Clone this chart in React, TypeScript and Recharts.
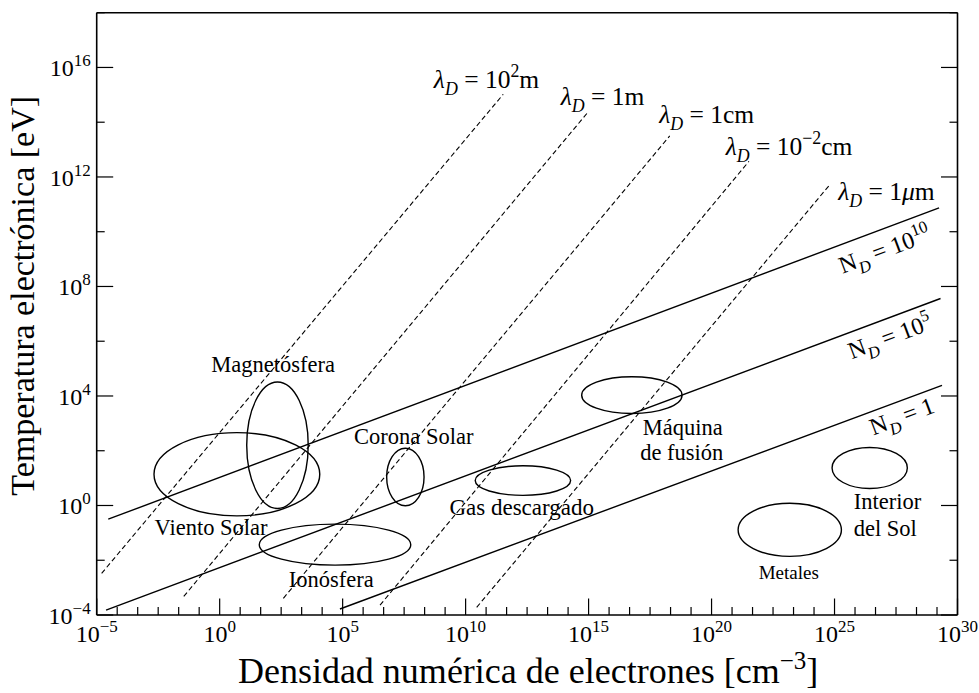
import React from 'react';
import { ComposedChart, XAxis, YAxis, Line, Scatter, ReferenceArea } from 'recharts';

const FONT = '"Liberation Serif", "Times New Roman", serif';

// everything is in log10 units: x = electron density [cm^-3], y = temperature [eV]
const xMajorTicks = [-5, 0, 5, 10, 15, 20, 25, 30];
const yMajorTicks = [-4, 0, 4, 8, 12, 16];
const yMinorTicks = [-2, 2, 6, 10, 14, 18];
// six minor steps between each labelled decade group
const xMinorTicks = xMajorTicks.slice(0, -1).flatMap((m) => [1, 2, 3, 4, 5].map((k) => m + (k * 5) / 6));

// Debye length (dashed)
const debye100m = [{ x: -4.8, y: -2.48 }, { x: 11.53, y: 15.02 }];
const debye1m = [{ x: -1.46, y: -3.32 }, { x: 14.94, y: 14.33 }];
const debye1cm = [{ x: 2.59, y: -3.39 }, { x: 18.3, y: 13.5 }];
const debye001cm = [{ x: 6.52, y: -3.64 }, { x: 21.52, y: 12.57 }];
const debye1um = [{ x: 10.45, y: -3.72 }, { x: 24.81, y: 11.72 }];

// particles in a Debye sphere (solid)
const nd1e10 = [{ x: -4.53, y: -0.5 }, { x: 29.25, y: 10.87 }];
const nd1e5 = [{ x: -4.62, y: -3.82 }, { x: 29.31, y: 7.56 }];
const nd1 = [{ x: 4.89, y: -3.78 }, { x: 29.37, y: 4.39 }];

// plasma regions: centre and half extent (decades)
const regions = [
  { name: 'Viento Solar', x: 0.7, y: 1.14, dx: 3.37, dy: 1.52 },
  { name: 'Magnetósfera', x: 2.35, y: 2.2, dx: 1.25, dy: 2.31 },
  { name: 'Corona Solar', x: 7.55, y: 1.04, dx: 0.76, dy: 1.05 },
  { name: 'Ionósfera', x: 4.69, y: -1.43, dx: 3.08, dy: 0.75 },
  { name: 'Gas descargado', x: 12.33, y: 0.91, dx: 1.94, dy: 0.54 },
  { name: 'Máquina de fusión', x: 16.76, y: 4.03, dx: 2.04, dy: 0.67 },
  { name: 'Metales', x: 23.18, y: -0.89, dx: 2.1, dy: 0.97 },
  { name: 'Interior del Sol', x: 26.43, y: 1.37, dx: 1.53, dy: 0.75 },
];

type Part = [string, string?];

const notes: { id: string; x: number; y: number; parts: Part[] }[] = [
  { id: 'l100m', x: 10.85, y: 15.55, parts: [['λ', 'i'], ['D', 'sub'], [' = 10'], ['2', 'sup'], ['m']] },
  { id: 'l1m', x: 15.57, y: 14.94, parts: [['λ', 'i'], ['D', 'sub'], [' = 1m']] },
  { id: 'l1cm', x: 19.8, y: 14.27, parts: [['λ', 'i'], ['D', 'sub'], [' = 1cm']] },
  { id: 'l001cm', x: 23.15, y: 13.11, parts: [['λ', 'i'], ['D', 'sub'], [' = 10'], ['−2', 'sup'], ['cm']] },
  { id: 'l1um', x: 27.11, y: 11.47, parts: [['λ', 'i'], ['D', 'sub'], [' = 1'], ['μ', 'i'], ['m']] },
  { id: 'n10', x: 27.04, y: 9.35, parts: [['N'], ['D', 'sub'], [' = 10'], ['10', 'sup']] },
  { id: 'n5', x: 27.25, y: 6.17, parts: [['N'], ['D', 'sub'], [' = 10'], ['5', 'sup']] },
  { id: 'n1', x: 27.74, y: 3.26, parts: [['N'], ['D', 'sub'], [' = 1']] },
  { id: 'mag', x: 2.17, y: 5.15, parts: [['Magnetósfera']] },
  { id: 'vs', x: -0.35, y: -0.8, parts: [['Viento Solar']] },
  { id: 'cs', x: 7.89, y: 2.51, parts: [['Corona Solar']] },
  { id: 'ion', x: 4.54, y: -2.69, parts: [['Ionósfera']] },
  { id: 'gas', x: 12.28, y: -0.07, parts: [['Gas descargado']] },
  { id: 'maq1', x: 18.83, y: 2.84, parts: [['Máquina']] },
  { id: 'maq2', x: 18.79, y: 1.93, parts: [['de fusión']] },
  { id: 'int1', x: 25.78, y: 0.13, parts: [['Interior']] },
  { id: 'int2', x: 25.78, y: -0.84, parts: [['del Sol']] },
  { id: 'met', x: 23.14, y: -2.44, parts: [['Metales']] },
];

const rotated: Record<string, number> = { n10: -20.5, n5: -20.5, n1: -20.5 };
const leftAligned = ['int1', 'int2'];
const noteSize: Record<string, number> = {
  l100m: 25.5, l1m: 25.5, l1cm: 25.5, l001cm: 25.5, l1um: 25.5,
  n10: 24, n5: 24, n1: 24,
  met: 19, gas: 23,
};

const MAJOR = 16.5;
const MINOR = 8;
const TICK_FONT = 24;
const TICK_SUP = 17;

function expLabel(v: number) {
  return String(v).replace('-', '−');
}

function RichText({ x, y, parts, size, anchor = 'middle', rotate = 0 }: any) {
  let level = 0;
  const spans = parts.map(([t, k]: Part, i: number) => {
    const small = k === 'sub' || k === 'sup';
    const target = k === 'sub' ? 0.28 * size : k === 'sup' ? -0.42 * size : 0;
    const dy = target - level;
    level = target;
    return (
      <tspan key={i} dy={dy} fontSize={small ? size * 0.7 : size} fontStyle={k === 'i' || k === 'sub' ? 'italic' : 'normal'}>
        {t}
      </tspan>
    );
  });
  return (
    <text
      x={x}
      y={y + size * 0.33}
      textAnchor={anchor}
      fontFamily={FONT}
      fontSize={size}
      fill="#000"
      style={{ whiteSpace: 'pre' }}
      transform={rotate ? `rotate(${rotate} ${x} ${y})` : undefined}
    >
      {spans}
    </text>
  );
}

function NoteShape(props: any) {
  const { cx, cy, payload } = props;
  if (cx == null || cy == null) return <g />;
  return (
    <RichText
      x={cx}
      y={cy}
      parts={payload.parts}
      size={noteSize[payload.id] || 22.5}
      anchor={leftAligned.includes(payload.id) ? 'start' : 'middle'}
      rotate={rotated[payload.id] || 0}
    />
  );
}

function EllipseShape(props: any) {
  const { x, y, width, height } = props;
  return (
    <ellipse
      cx={x + width / 2}
      cy={y + height / 2}
      rx={Math.abs(width) / 2}
      ry={Math.abs(height) / 2}
      fill="none"
      stroke="#000"
      strokeWidth={1.4}
    />
  );
}

function BottomTick(props: any) {
  const { x, y, payload } = props;
  const major = xMajorTicks.includes(payload.value);
  return (
    <g>
      <line x1={x} x2={x} y1={y} y2={y - (major ? MAJOR : MINOR)} stroke="#000" strokeWidth={1.2} />
      {major && (
        <text x={x} y={y + 27} textAnchor="middle" fontFamily={FONT} fontSize={TICK_FONT} fill="#000">
          10
          <tspan dy={-10} fontSize={TICK_SUP}>
            {expLabel(payload.value)}
          </tspan>
        </text>
      )}
    </g>
  );
}

function TopTick(props: any) {
  const { x, y, payload } = props;
  const major = xMajorTicks.includes(payload.value);
  return <line x1={x} x2={x} y1={y} y2={y + (major ? MAJOR : MINOR)} stroke="#000" strokeWidth={1.2} />;
}

function LeftTick(props: any) {
  const { x, y, payload } = props;
  const major = yMajorTicks.includes(payload.value);
  return (
    <g>
      <line x1={x} x2={x + (major ? MAJOR : MINOR)} y1={y} y2={y} stroke="#000" strokeWidth={1.2} />
      {major && (
        <text x={x - 6} y={y + 9} textAnchor="end" fontFamily={FONT} fontSize={TICK_FONT} fill="#000">
          10
          <tspan dy={-10} fontSize={TICK_SUP}>
            {expLabel(payload.value)}
          </tspan>
        </text>
      )}
    </g>
  );
}

function RightTick(props: any) {
  const { x, y, payload } = props;
  const major = yMajorTicks.includes(payload.value);
  return <line x1={x} x2={x - (major ? MAJOR : MINOR)} y1={y} y2={y} stroke="#000" strokeWidth={1.2} />;
}

function XTitle(props: any) {
  const vb = props.viewBox || { x: 96.7, y: 615, width: 861 };
  return (
    <text x={vb.x + vb.width / 2 + 1} y={vb.y + 68} textAnchor="middle" fontFamily={FONT} fontSize={36} fill="#000">
      Densidad numérica de electrones [cm
      <tspan dy={-14} fontSize={25}>
        −3
      </tspan>
      <tspan dy={14}>]</tspan>
    </text>
  );
}

function YTitle(props: any) {
  const vb = props.viewBox || { x: 95.7, y: 12.7, width: 1, height: 602 };
  const cx = vb.x + vb.width - 62.7;
  const cy = vb.y + vb.height / 2 - 18;
  return (
    <text x={cx} y={cy} transform={`rotate(-90 ${cx} ${cy})`} textAnchor="middle" fontFamily={FONT} fontSize={34} fill="#000">
      Temperatura electrónica [eV]
    </text>
  );
}

const axisLine = { stroke: '#000', strokeWidth: 1.6 };

export default function App() {
  const dashed = [debye100m, debye1m, debye1cm, debye001cm, debye1um];
  const solid = [nd1e10, nd1e5, nd1];
  return (
    <div style={{ position: 'absolute', left: 0, top: 0, background: '#fff' }}>
      <ComposedChart width={979} height={693} margin={{ top: 11.7, right: 20.5, bottom: 77, left: 95.7 }}>
        <XAxis
          type="number"
          dataKey="x"
          domain={[-5, 30]}
          ticks={[...xMajorTicks, ...xMinorTicks]}
          interval={0}
          allowDataOverflow
          height={1}
          tickSize={0}
          tickMargin={0}
          tickLine={false}
          tick={<BottomTick />}
          axisLine={axisLine}
          label={(p: any) => <XTitle {...p} />}
        />
        <XAxis
          xAxisId="top"
          orientation="top"
          type="number"
          domain={[-5, 30]}
          ticks={[...xMajorTicks, ...xMinorTicks]}
          interval={0}
          allowDataOverflow
          height={1}
          tickSize={0}
          tickMargin={0}
          tickLine={false}
          tick={<TopTick />}
          axisLine={axisLine}
        />
        <YAxis
          type="number"
          dataKey="y"
          domain={[-4, 18]}
          ticks={[...yMajorTicks, ...yMinorTicks]}
          interval={0}
          allowDataOverflow
          width={1}
          tickSize={0}
          tickMargin={0}
          tickLine={false}
          tick={<LeftTick />}
          axisLine={axisLine}
          label={(p: any) => <YTitle {...p} />}
        />
        <YAxis
          yAxisId="right"
          orientation="right"
          type="number"
          domain={[-4, 18]}
          ticks={[...yMajorTicks, ...yMinorTicks]}
          interval={0}
          allowDataOverflow
          width={1}
          tickSize={0}
          tickMargin={0}
          tickLine={false}
          tick={<RightTick />}
          axisLine={axisLine}
        />
        {regions.map((r) => (
          <ReferenceArea
            key={r.name}
            x1={r.x - r.dx}
            x2={r.x + r.dx}
            y1={r.y - r.dy}
            y2={r.y + r.dy}
            shape={(p: any) => <EllipseShape {...p} />}
          />
        ))}
        {dashed.map((d, i) => (
          <Line
            key={'d' + i}
            data={d}
            dataKey="y"
            type="linear"
            stroke="#000"
            strokeWidth={1.1}
            strokeDasharray="5 3"
            dot={false}
            activeDot={false}
            isAnimationActive={false}
          />
        ))}
        {solid.map((d, i) => (
          <Line
            key={'s' + i}
            data={d}
            dataKey="y"
            type="linear"
            stroke="#000"
            strokeWidth={1.4}
            dot={false}
            activeDot={false}
            isAnimationActive={false}
          />
        ))}
        <Scatter data={notes} dataKey="y" shape={(p: any) => <NoteShape {...p} />} isAnimationActive={false} />
      </ComposedChart>
    </div>
  );
}
